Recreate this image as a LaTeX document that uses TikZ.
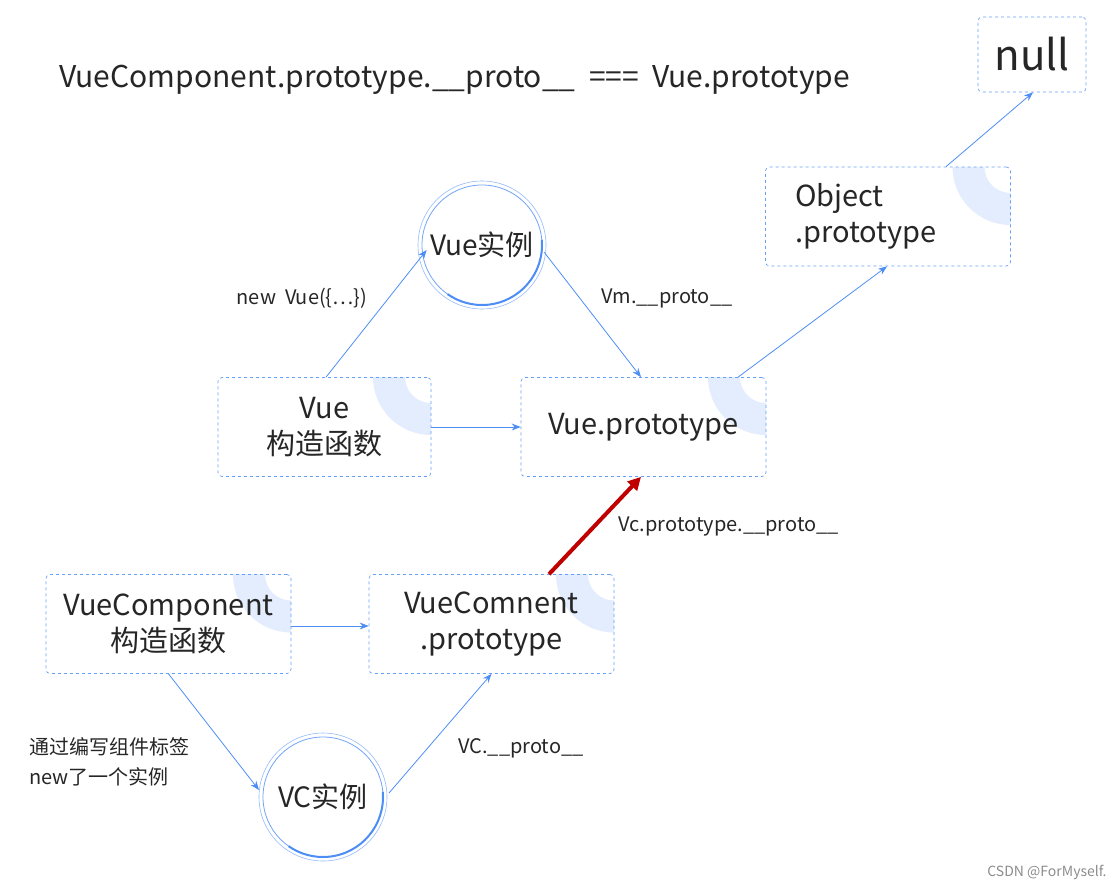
\documentclass[tikz,border=0pt]{standalone}
\usepackage{fontspec}
\setmainfont{Noto Sans CJK SC}
\usetikzlibrary{arrows.meta,calc,positioning}
\definecolor{lineblue}{HTML}{4D8EF5}
\definecolor{ringblue}{HTML}{E3EDFD}
\definecolor{darkred}{HTML}{C00000}
\tikzset{
  box/.style={draw=lineblue!85, dashed, line width=0.7pt, rounded corners=4pt, minimum width=#1, minimum height=99pt, align=center, font=\fontsize{29}{36}\selectfont, text=black!85},
  box/.default=245pt,
  link/.style={draw=lineblue, line width=0.8pt, -{Stealth[length=9pt,width=7pt]}},
  lbl/.style={font=\fontsize{20}{30}\selectfont, text=black!85}
}
% quarter ring at a box's top right corner
\newcommand{\ring}[1]{%
  \begin{scope}
    \clip ($(#1)+(-70,0)$) rectangle ($(#1)+(0,70)$);
    \fill[ringblue, even odd rule] (#1) circle (58pt) (#1) circle (26pt);
  \end{scope}}
\newcommand{\inst}[3]{%
  \draw[lineblue!60, line width=0.6pt] (#1) circle (64pt);
  \draw[lineblue!80, line width=0.8pt] (#1) circle (60pt);
  \draw[lineblue, line width=2pt] ($(#1)+(5:60pt)$) arc (5:-125:60pt);
  \node[font=\fontsize{28}{30}\selectfont, text=black!85] (#2) at (#1) {#3};}
\begin{document}
\begin{tikzpicture}[x=1pt,y=-1pt]
\useasboundingbox (0,0) rectangle (1118,889);
\foreach \c in {{431,377},{766,377},{291,574.5},{614,574.5},{1010.5,167}} {\ring{\c}}
% boxes
\node[box=213pt] (vue) at (324.5,427) {Vue\\构造函数};
\node[box] (vueproto) at (643.5,427) {Vue.prototype};
\node[box] (vc) at (168.5,624) {VueComponent\\构造函数};
\node[box] (vcproto) at (491.5,624) {VueComnent\\.prototype};
\node[box, align=left, text width=186pt] (objproto) at (888,216.5) {Object\\.prototype};
\node[box=108pt, minimum height=75pt, font=\fontsize{42}{44}\selectfont] (null) at (1032,54.5) {null};
% instances
\inst{482,245}{vm}{Vue实例}
\inst{323,797}{vcinst}{VC实例}
% title
\node[font=\fontsize{30}{32}\selectfont, text=black!85, anchor=west] (title) at (56,80) {VueComponent.prototype.\_\_proto\_\_\ \ ===\ \ Vue.prototype};
% links
\draw[link] ([xshift=1.5pt]vue.north) -- (vm.west |- 0,250) coordinate (a1);
\draw[link] (544,252) -- ([xshift=-2.5pt]vueproto.north);
\draw[link] (vue.east) -- (vueproto.west);
\draw[link] ([xshift=94.5pt]vueproto.north) -- ([xshift=-1pt]objproto.south);
\draw[link] ([xshift=58pt]objproto.north) -- ([xshift=1pt]null.south);
\draw[darkred, line width=4pt, -{Triangle[length=13pt,width=13pt]}] ([xshift=57.5pt]vcproto.north) -- ([xshift=-2.5pt]vueproto.south);
\draw[link] ([yshift=-2pt]vc.east) -- ([yshift=-2pt]vcproto.west);
\draw[link] (vc.south) -- (259,790);
\draw[link] (389,793) -- (vcproto.south);
% labels
\node[lbl] (l1) at (302,298) {new\ \ Vue(\{⋯\})};
\node[lbl] (l2) at (667,298) {Vm.\_\_proto\_\_};
\node[lbl, anchor=west] (l3) at (615,527) {Vc.prototype.\_\_proto\_\_};
\node[lbl] (l4) at (521,748) {VC.\_\_proto\_\_};
\node[lbl, anchor=west, align=left] (l5) at (26,762) {通过编写组件标签\\new了一个实例};
\node[font=\fontsize{14}{16}\selectfont, text=black!45, anchor=east] (mark) at (1110,872) {CSDN @ForMyself.};
\end{tikzpicture}
\end{document}
